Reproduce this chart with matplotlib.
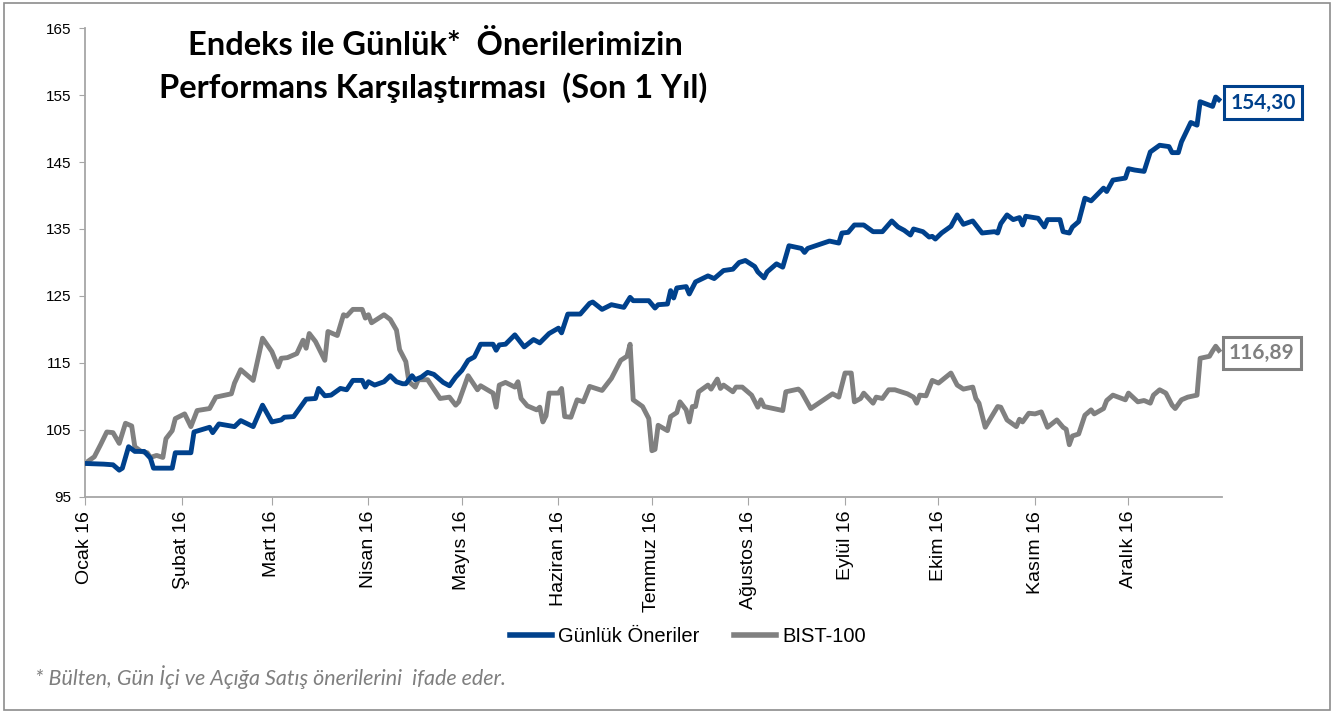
import matplotlib
matplotlib.use("Agg")
import matplotlib.pyplot as plt
from matplotlib.patches import Rectangle

# ---------------- data ----------------
month_labels = ["Ocak 16", "Şubat 16", "Mart 16", "Nisan 16", "Mayıs 16", "Haziran 16",
                "Temmuz 16", "Ağustos 16", "Eylül 16", "Ekim 16", "Kasım 16", "Aralık 16"]
month_starts = [0, 31, 60, 91, 121, 152, 182, 213, 244, 274, 305, 335]  # day of year 2016

gunluk_days = [0, 6, 9, 11, 12, 14, 16, 19, 21, 22, 28, 29, 34, 35, 40, 41, 43, 48, 50, 54,
               57, 60, 63, 64, 67, 71, 74, 75, 77, 79, 82, 84, 86, 89, 90, 91, 93, 96, 98, 100,
               102, 103, 105, 106, 108, 110, 112, 115, 117, 119, 121, 123, 125, 127, 131, 132,
               133, 135, 138, 141, 144, 146, 149, 152, 153, 155, 159, 162, 163, 166, 169, 173,
               175, 176, 181, 183, 184, 187, 188, 189, 190, 193, 194, 196, 200, 202, 205, 208,
               210, 212, 215, 216, 218, 219, 222, 224, 226, 230, 231, 232, 239, 242, 243, 245,
               247, 250, 253, 256, 259, 261, 263, 265, 266, 269, 271, 272, 273, 275, 278, 280,
               282, 285, 288, 292, 293, 294, 296, 298, 300, 301, 302, 306, 308, 309, 313, 314,
               316, 317, 319, 321, 323, 327, 328, 330, 334, 335, 337, 340, 342, 345, 348, 349,
               351, 352, 355, 357, 358, 362, 363, 364]
gunluk_values = [100.0, 99.9, 99.8, 99.0, 99.3, 102.5, 101.8, 101.8, 100.8, 99.3, 99.3, 101.6,
                 101.6, 104.7, 105.4, 104.6, 105.9, 105.5, 106.4, 105.5, 108.7, 106.2, 106.5,
                 106.9, 107.0, 109.6, 109.7, 111.2, 110.1, 110.2, 111.2, 111.0, 112.4, 112.4,
                 111.4, 112.2, 111.7, 112.2, 113.1, 112.2, 111.9, 111.9, 113.1, 112.5, 112.9,
                 113.6, 113.3, 112.1, 111.6, 112.9, 113.9, 115.4, 115.9, 117.8, 117.8, 116.9,
                 117.7, 117.8, 119.2, 117.4, 118.5, 118.0, 119.4, 120.2, 119.5, 122.3, 122.3,
                 123.9, 124.1, 123.0, 123.7, 123.3, 124.8, 124.3, 124.3, 123.2, 123.7, 123.8,
                 125.8, 124.7, 126.2, 126.4, 125.3, 127.1, 128.0, 127.6, 128.8, 129.0, 130.0,
                 130.3, 129.4, 128.6, 127.7, 128.6, 129.8, 129.3, 132.5, 132.1, 131.5, 132.1,
                 133.2, 132.9, 134.4, 134.5, 135.6, 135.6, 134.6, 134.6, 136.2, 135.3, 134.8,
                 134.1, 135.0, 134.6, 133.8, 133.9, 133.5, 134.4, 135.4, 137.1, 135.7, 136.2,
                 134.4, 134.6, 134.4, 135.8, 137.1, 136.4, 136.7, 135.6, 136.9, 136.6, 135.3,
                 136.4, 136.4, 134.6, 134.4, 135.3, 136.1, 139.6, 139.2, 141.1, 140.6, 142.3,
                 142.6, 144.0, 143.8, 143.6, 146.5, 147.5, 147.3, 146.4, 146.4, 148.0, 150.9,
                 150.5, 154.0, 153.3, 154.7, 154.30]

bist_days = [0, 3, 5, 7, 9, 11, 13, 15, 16, 18, 20, 21, 23, 25, 26, 28, 29, 32, 34, 35, 36,
             40, 42, 47, 48, 50, 54, 57, 60, 62, 63, 65, 68, 70, 71, 72, 74, 77, 78, 81, 83,
             84, 86, 89, 90, 91, 92, 96, 98, 100, 101, 103, 104, 106, 107, 110, 114, 117, 119,
             120, 123, 126, 127, 131, 132, 133, 135, 138, 139, 140, 142, 145, 146, 147, 148,
             149, 152, 153, 154, 156, 158, 160, 162, 166, 169, 172, 174, 175, 176, 179, 181,
             182, 183, 184, 187, 188, 190, 191, 193, 194, 195, 196, 197, 200, 201, 203, 204,
             205, 208, 209, 211, 214, 216, 217, 218, 224, 225, 229, 230, 233, 240, 242, 244,
             246, 247, 249, 250, 253, 254, 256, 258, 260, 264, 266, 267, 268, 270, 272, 274,
             278, 280, 282, 285, 286, 287, 289, 293, 294, 296, 299, 300, 301, 303, 305, 307,
             309, 312, 314, 315, 316, 317, 319, 321, 323, 324, 327, 328, 330, 334, 335, 338,
             340, 342, 343, 345, 347, 349, 350, 352, 354, 357, 358, 361, 362, 363, 364]
bist_values = [100.0, 101.0, 102.8, 104.7, 104.6, 103.0, 106.0, 105.6, 102.5, 101.8, 101.6,
               100.9, 101.2, 100.9, 103.7, 104.9, 106.7, 107.4, 105.5, 106.7, 107.9, 108.2,
               109.9, 110.4, 112.0, 114.0, 112.4, 118.7, 116.7, 114.4, 115.7, 115.8, 116.4,
               118.4, 117.2, 119.4, 118.2, 115.4, 119.7, 119.1, 122.2, 122.0, 123.0, 123.0,
               121.7, 122.2, 121.0, 122.2, 121.5, 119.9, 117.0, 115.2, 112.2, 111.4, 112.5,
               112.5, 109.7, 109.9, 108.7, 109.2, 113.1, 111.0, 111.6, 110.5, 108.4, 111.7,
               112.1, 111.4, 112.2, 109.7, 108.6, 108.0, 108.4, 106.2, 107.1, 110.5, 110.5,
               111.2, 107.0, 106.9, 109.5, 109.2, 111.5, 110.9, 112.7, 115.4, 116.0, 117.8,
               109.5, 108.5, 106.7, 101.9, 102.1, 105.7, 104.9, 107.0, 107.6, 109.2, 108.0,
               106.2, 108.5, 108.5, 110.7, 111.7, 111.1, 112.6, 111.2, 111.7, 110.7, 111.4,
               111.4, 110.2, 108.4, 109.5, 108.5, 107.9, 110.7, 111.1, 110.7, 108.2, 110.4,
               109.9, 113.5, 113.5, 109.2, 109.7, 110.5, 109.0, 109.9, 109.7, 111.0, 111.0,
               110.4, 109.9, 109.0, 110.2, 110.1, 112.4, 112.0, 113.5, 111.7, 111.1, 111.4,
               109.7, 109.0, 105.4, 108.5, 108.4, 106.5, 105.5, 106.6, 106.2, 107.5, 107.4,
               107.7, 105.4, 106.5, 105.4, 105.1, 102.8, 104.1, 104.4, 107.2, 108.0, 107.4,
               108.2, 109.4, 110.2, 109.5, 110.5, 109.2, 109.4, 109.0, 110.2, 111.0, 110.5,
               108.7, 108.2, 109.5, 109.9, 110.2, 115.7, 116.0, 116.8, 117.5, 116.89]

series_names = ["Günlük Öneriler", "BIST-100"]
end_labels = ["154,30", "116,89"]
title_lines = ["Endeks ile Günlük*  Önerilerimizin", "Performans Karşılaştırması  (Son 1 Yıl)"]
footnote = "* Bülten, Gün İçi ve Açığa Satış önerilerini  ifade eder."
y_ticks = [95, 105, 115, 125, 135, 145, 155, 165]

# ---------------- style ----------------
BLUE = "#00418C"
GRAY = "#808080"
AXIS = "#A6A6A6"

plt.rcParams["font.family"] = ["Liberation Sans", "DejaVu Sans"]

fig = plt.figure(figsize=(13.34, 7.13), dpi=100)
fig.patch.set_facecolor("white")
fig.patches.append(Rectangle((0.003, 0.004), 0.994, 0.992, transform=fig.transFigure,
                             fill=False, edgecolor="#8C8C8C", linewidth=1.2))

ax = fig.add_axes([0.0637, 0.303, 0.8523, 0.6577])

l1, = ax.plot(gunluk_days, gunluk_values, color=BLUE, lw=3.5, solid_joinstyle="round",
              label=series_names[0], zorder=3)
l2, = ax.plot(bist_days, bist_values, color=GRAY, lw=3.5, solid_joinstyle="round",
              label=series_names[1], zorder=2)

ax.set_xlim(0, 365)
ax.set_ylim(95, 165)
ax.set_yticks(y_ticks)
ax.set_yticklabels([str(t) for t in y_ticks], fontsize=11)
ax.set_xticks(month_starts)
ax.set_xticklabels(month_labels, rotation=90, fontsize=14, ha="center", va="top")

for s in ["top", "right"]:
    ax.spines[s].set_visible(False)
for s in ["left", "bottom"]:
    ax.spines[s].set_color(AXIS)
    ax.spines[s].set_linewidth(1.3)
ax.tick_params(axis="y", direction="out", length=4, color=AXIS, pad=6, labelcolor="black")
ax.tick_params(axis="x", direction="out", length=6, color=AXIS, pad=4, labelcolor="black")

# title inside plot area
title_font = dict(family=["Lato", "DejaVu Sans"], fontweight="bold", fontsize=23.5, color="black",
                  ha="center", va="center", transform=fig.transFigure)
fig.text(435 / 1334, 1 - 45 / 713, title_lines[0], **title_font)
fig.text(433 / 1334, 1 - 88 / 713, title_lines[1], **title_font)

# end labels with boxes
ax.annotate(end_labels[0], xy=(gunluk_days[-1], gunluk_values[-1]), xytext=(32, -2),
            textcoords="offset points", ha="center", va="center", fontsize=15,
            fontweight="bold", color=BLUE, family=["Lato", "DejaVu Sans"],
            bbox=dict(boxstyle="square,pad=0.3", facecolor="white", edgecolor=BLUE, linewidth=2.2))
ax.annotate(end_labels[1], xy=(bist_days[-1], bist_values[-1]), xytext=(31, -2),
            textcoords="offset points", ha="center", va="center", fontsize=15,
            fontweight="bold", color=GRAY, family=["Lato", "DejaVu Sans"],
            bbox=dict(boxstyle="square,pad=0.3", facecolor="white", edgecolor=GRAY, linewidth=2.2))

leg = fig.legend(handles=[l1, l2], labels=series_names, loc="center",
                 bbox_to_anchor=(688 / 1334, 1 - 637 / 713), ncol=2, frameon=False,
                 fontsize=14.5, handlelength=2.1, handletextpad=0.3, columnspacing=1.7)
for h in leg.get_lines():
    h.set_linewidth(4)

fig.text(35 / 1334, 1 - 677 / 713, footnote, fontsize=15.5, style="italic", color="#7F7F7F",
         family=["Lato", "DejaVu Sans"], ha="left", va="center")

fig.savefig("out.png", dpi=100, facecolor="white")
